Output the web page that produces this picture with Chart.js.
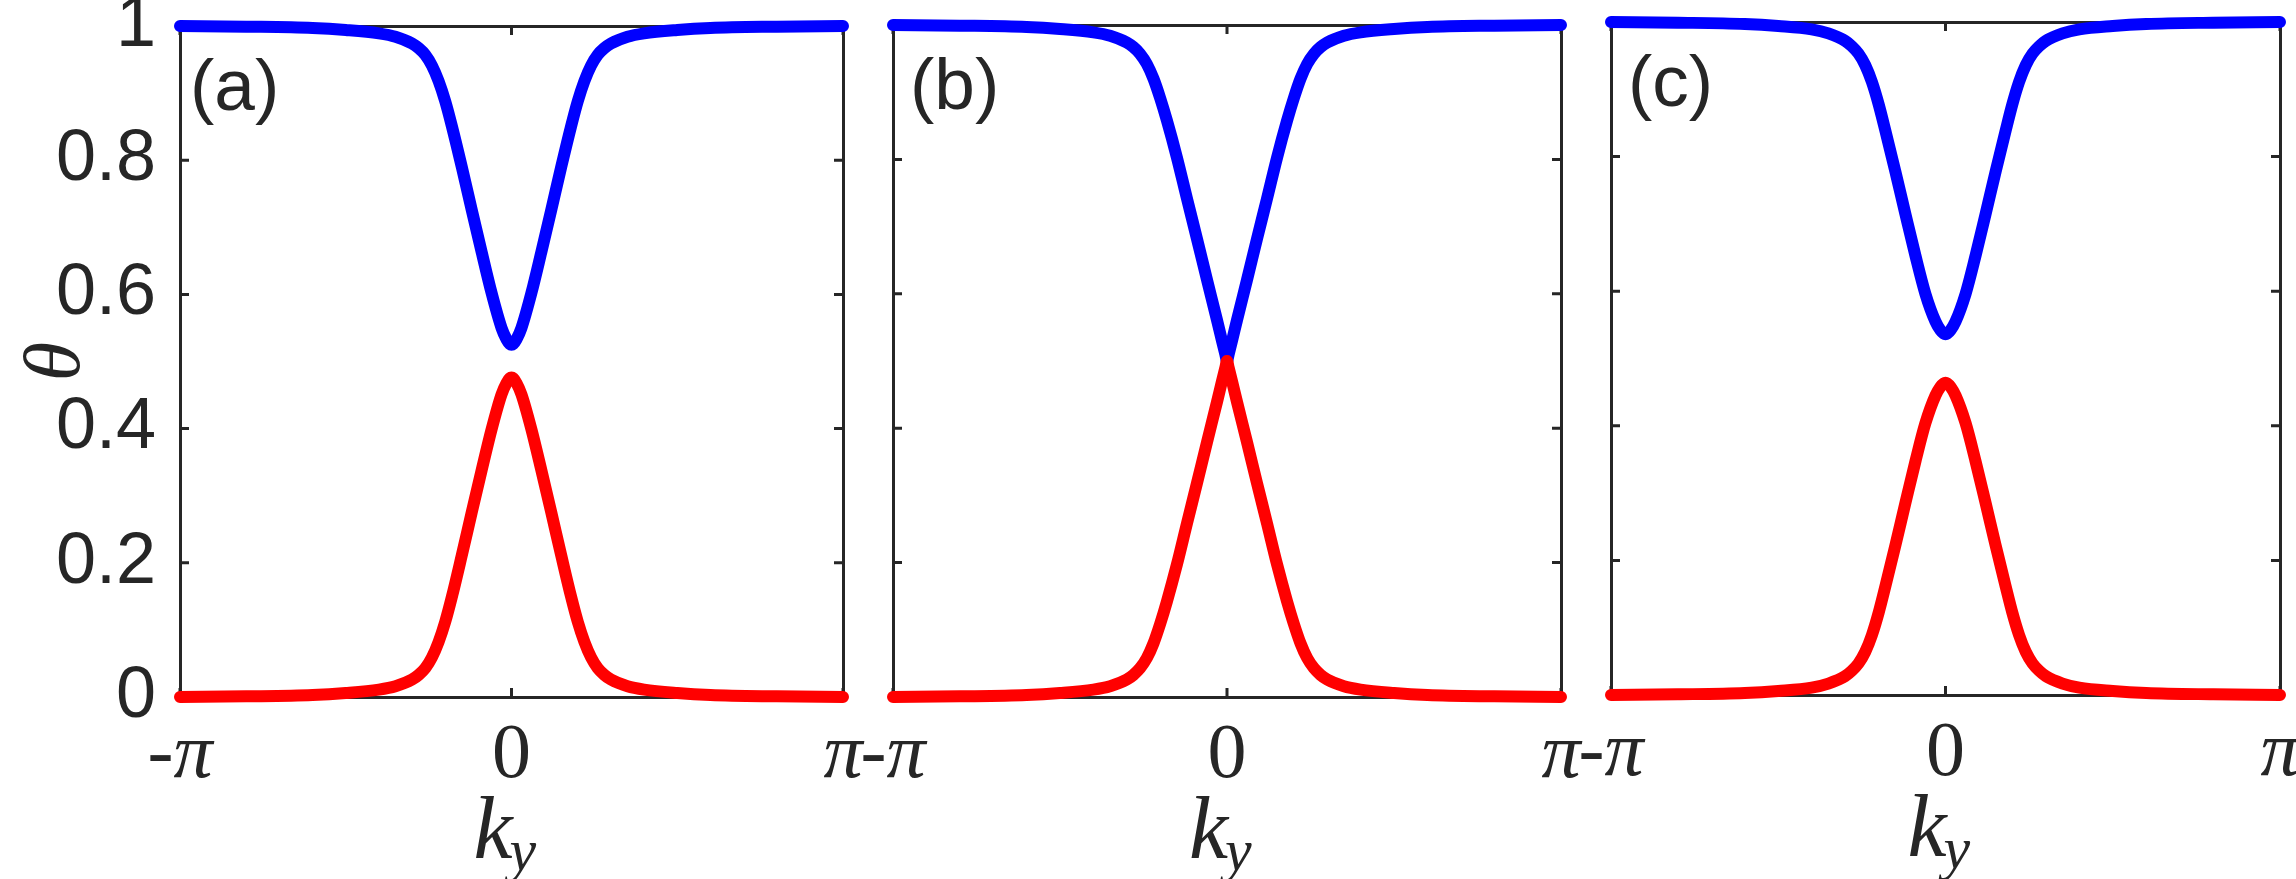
<!DOCTYPE html>
<html><head><meta charset="utf-8">
<script src="https://cdn.jsdelivr.net/npm/chart.js@4.4.0/dist/chart.umd.min.js"></script>
<style>
html,body{margin:0;padding:0;background:#fff;}
#wrap{position:relative;width:2296px;height:879px;overflow:hidden;background:#fff;}
canvas{position:absolute;left:0;top:0;}
</style></head><body>
<div id="wrap">
<canvas id="ca" width="2296" height="879"></canvas>
<canvas id="cb" width="2296" height="879"></canvas>
<canvas id="cc" width="2296" height="879"></canvas>
</div>
<script>
// ---- data (k_y in units of pi) ----
const ky = [-1, -0.8, -0.6, -0.5, -0.4, -0.35, -0.3, -0.28, -0.26, -0.24, -0.22, -0.2, -0.18, -0.15, -0.12, -0.09, -0.06, -0.03, -0.015, -0.005, 0, 0.005, 0.015, 0.03, 0.06, 0.09, 0.12, 0.15, 0.18, 0.2, 0.22, 0.24, 0.26, 0.28, 0.3, 0.35, 0.4, 0.5, 0.6, 0.8, 1];

const upperA = [1.0, 0.999, 0.997, 0.994, 0.989, 0.984, 0.974, 0.967, 0.957, 0.941, 0.918, 0.888, 0.851, 0.79, 0.726, 0.663, 0.602, 0.55, 0.533, 0.526, 0.525, 0.526, 0.533, 0.55, 0.602, 0.663, 0.726, 0.79, 0.851, 0.888, 0.918, 0.941, 0.957, 0.967, 0.974, 0.984, 0.989, 0.994, 0.997, 0.999, 1.0];
const lowerA = [0.0, 0.001, 0.003, 0.006, 0.011, 0.016, 0.026, 0.033, 0.043, 0.059, 0.082, 0.112, 0.149, 0.211, 0.275, 0.338, 0.399, 0.451, 0.468, 0.475, 0.476, 0.475, 0.468, 0.451, 0.399, 0.338, 0.275, 0.211, 0.149, 0.112, 0.082, 0.059, 0.043, 0.033, 0.026, 0.016, 0.011, 0.006, 0.003, 0.001, 0.0];

const upperB = [1.0, 0.999, 0.997, 0.994, 0.989, 0.984, 0.974, 0.967, 0.957, 0.942, 0.92, 0.891, 0.858, 0.803, 0.742, 0.682, 0.621, 0.561, 0.53, 0.51, 0.5, 0.51, 0.53, 0.561, 0.621, 0.682, 0.742, 0.803, 0.858, 0.891, 0.92, 0.942, 0.957, 0.967, 0.974, 0.984, 0.989, 0.994, 0.997, 0.999, 1.0];
const lowerB = [0.0, 0.001, 0.003, 0.006, 0.011, 0.016, 0.026, 0.033, 0.043, 0.058, 0.08, 0.109, 0.142, 0.197, 0.258, 0.318, 0.379, 0.439, 0.47, 0.49, 0.5, 0.49, 0.47, 0.439, 0.379, 0.318, 0.258, 0.197, 0.142, 0.109, 0.08, 0.058, 0.043, 0.033, 0.026, 0.016, 0.011, 0.006, 0.003, 0.001, 0.0];

const upperC = [1.0, 0.999, 0.997, 0.994, 0.989, 0.983, 0.972, 0.964, 0.953, 0.936, 0.911, 0.878, 0.839, 0.778, 0.715, 0.653, 0.596, 0.555, 0.542, 0.537, 0.536, 0.537, 0.542, 0.555, 0.596, 0.653, 0.715, 0.778, 0.839, 0.878, 0.911, 0.936, 0.953, 0.964, 0.972, 0.983, 0.989, 0.994, 0.997, 0.999, 1.0];
const lowerC = [0.0, 0.001, 0.003, 0.006, 0.011, 0.017, 0.028, 0.036, 0.047, 0.064, 0.089, 0.122, 0.161, 0.222, 0.285, 0.347, 0.404, 0.445, 0.458, 0.463, 0.464, 0.463, 0.458, 0.445, 0.404, 0.347, 0.285, 0.222, 0.161, 0.122, 0.089, 0.064, 0.047, 0.036, 0.028, 0.017, 0.011, 0.006, 0.003, 0.001, 0.0];

const xTickValues = [-1, 0, 1];
const xTickLabels = ['-π', '0', 'π'];
const yTickLabels = ['0', '0.2', '0.4', '0.6', '0.8', '1'];
const panelLabels = ['(a)', '(b)', '(c)'];
const yTitle = 'θ';
const xTitleMain = 'k';
const xTitleSub = 'y';

// ---- styles / layout ----
const AX = '#262626', TXT = '#262626';
const SANS = '"Liberation Sans", Arial, Helvetica, sans-serif';
const SERIF = '"Liberation Serif", "Times New Roman", serif';
const TL = 9;
const W = 2296, H = 879;
const geoms = [
  {left:180, right:843, top:26, bottom:697, yW:180, labelDx:10},
  {left:893, right:1561, top:25, bottom:697, yW:0, labelDx:17},
  {left:1611, right:2280, top:22, bottom:695, yW:0, labelDx:17}
];

const inwardTicks = {
  id: 'inwardTicks',
  beforeDatasetsDraw(chart) {
    const {ctx, chartArea: {left, right, top, bottom}, scales: {x, y}} = chart;
    ctx.save();
    ctx.strokeStyle = AX; ctx.lineWidth = 3;
    ctx.beginPath();
    x.ticks.forEach(t => {
      const px = x.getPixelForValue(t.value);
      ctx.moveTo(px, bottom); ctx.lineTo(px, bottom - TL);
      ctx.moveTo(px, top); ctx.lineTo(px, top + TL);
    });
    y.ticks.forEach(t => {
      const py = y.getPixelForValue(t.value);
      ctx.moveTo(left, py); ctx.lineTo(left + TL, py);
      ctx.moveTo(right, py); ctx.lineTo(right - TL, py);
    });
    ctx.stroke();
    ctx.restore();
  }
};

const panelText = {
  id: 'panelText',
  afterDatasetsDraw(chart, args, opts) {
    const {ctx, chartArea: {left, top, bottom}, scales: {x}} = chart;
    ctx.save();
    ctx.fillStyle = TXT;
    ctx.textBaseline = 'alphabetic';
    ctx.textAlign = 'left';
    ctx.font = '73px ' + SANS;
    ctx.fillText(opts.label, left + opts.labelDx, top + 84);
    const cx = x.getPixelForValue(0);
    ctx.font = 'italic 88px ' + SERIF;
    const kw = ctx.measureText(xTitleMain).width;
    const kx = cx - 38;
    ctx.fillText(xTitleMain, kx, bottom + 161);
    ctx.font = 'italic 60px ' + SERIF;
    ctx.fillText(xTitleSub, kx + kw - 3, bottom + 173);
    ctx.restore();
  }
};

function pts(vals) { return vals.map((v, i) => ({x: ky[i], y: v})); }

function makeChart(id, upper, lower, g, idx) {
  const showY = idx === 0;
  return new Chart(document.getElementById(id), {
    type: 'line',
    data: {
      datasets: [
        {data: pts(lower), borderColor: '#FF0000'},
        {data: pts(upper), borderColor: '#0000FF'}
      ].map(d => Object.assign(d, {
        borderWidth: 12, pointRadius: 0, fill: false, clip: false,
        borderCapStyle: 'round', borderJoinStyle: 'round',
        cubicInterpolationMode: 'monotone'
      }))
    },
    options: {
      responsive: false,
      animation: false,
      events: [],
      layout: {autoPadding: false, padding: {left: g.left - g.yW, right: W - g.right, top: g.top, bottom: 0}},
      plugins: {legend: {display: false}, tooltip: {enabled: false},
        panelText: {label: panelLabels[idx], labelDx: g.labelDx}},
      scales: {
        x: {
          type: 'linear', position: 'bottom', min: -1, max: 1,
          afterBuildTicks: s => { s.ticks = xTickValues.map(v => ({value: v})); },
          afterFit: s => { s.height = H - g.bottom; s.paddingLeft = 0; s.paddingRight = 0; },
          grid: {display: false, drawTicks: false},
          border: {display: true, color: AX, width: 3},
          ticks: {
            autoSkip: false, maxRotation: 0, minRotation: 0, padding: 13, color: TXT,
            font: c => ({family: SERIF, size: 78, style: xTickLabels[c.index] === '0' ? 'normal' : 'italic'}),
            callback: (v, i) => xTickLabels[i]
          }
        },
        x2: {
          type: 'linear', position: 'top', min: -1, max: 1,
          ticks: {display: false}, grid: {display: false, drawTicks: false},
          border: {display: true, color: AX, width: 3},
          afterFit: s => { s.height = 0; s.paddingLeft = 0; s.paddingRight = 0; }
        },
        y: {
          type: 'linear', position: 'left', min: 0, max: 1,
          ticks: {display: showY, stepSize: 0.2, padding: 24, color: TXT,
            font: {family: SANS, size: 72},
            callback: (v, i) => yTickLabels[i]},
          grid: {display: false, drawTicks: false},
          border: {display: true, color: AX, width: 3},
          title: {display: showY, text: yTitle, color: TXT,
            font: {family: SERIF, size: 80, style: 'italic', lineHeight: 1}, padding: {top: 18, bottom: 0}},
          afterFit: s => { s.width = g.yW; s.paddingTop = 0; s.paddingBottom = 0; }
        },
        y2: {
          type: 'linear', position: 'right', min: 0, max: 1,
          ticks: {display: false}, grid: {display: false, drawTicks: false},
          border: {display: true, color: AX, width: 3},
          afterFit: s => { s.width = 0; s.paddingTop = 0; s.paddingBottom = 0; }
        }
      }
    },
    plugins: [inwardTicks, panelText]
  });
}

makeChart('ca', upperA, lowerA, geoms[0], 0);
makeChart('cb', upperB, lowerB, geoms[1], 1);
makeChart('cc', upperC, lowerC, geoms[2], 2);
</script>
</body></html>
